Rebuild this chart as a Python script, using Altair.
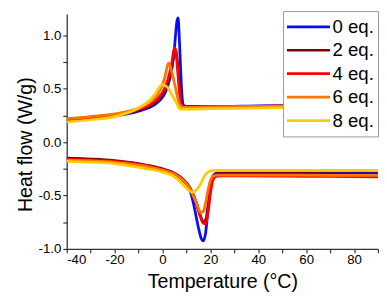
import altair as alt
import pandas as pd

series = ["0 eq.", "2 eq.", "4 eq.", "6 eq.", "8 eq."]
colors = ["#0b0bf6", "#800000", "#ff0000", "#ff7300", "#ffcc00"]

# heating branch (upper curves)
heat_T = [-40, -30, -20, -10, -5, -3, -1, 0, 1, 2, 2.5, 3, 4, 5, 5.5, 6, 6.5, 7, 7.5, 8, 8.5, 9, 10, 20, 40, 60, 90]
heat_0 = [0.200, 0.220, 0.245, 0.290, 0.330, 0.355, 0.395, 0.420, 0.460, 0.515, 0.550, 0.590, 0.700, 0.880, 1.020, 1.130, 1.165, 0.980, 0.720, 0.480, 0.360, 0.340, 0.335, 0.335, 0.340, 0.345, 0.355]
heat_2 = [0.210, 0.230, 0.255, 0.300, 0.345, 0.375, 0.420, 0.450, 0.490, 0.545, 0.580, 0.620, 0.720, 0.845, 0.865, 0.800, 0.680, 0.540, 0.420, 0.355, 0.335, 0.330, 0.330, 0.330, 0.335, 0.340, 0.350]
heat_4 = [0.215, 0.235, 0.260, 0.310, 0.355, 0.390, 0.435, 0.465, 0.510, 0.570, 0.610, 0.650, 0.760, 0.885, 0.860, 0.760, 0.620, 0.490, 0.390, 0.345, 0.330, 0.330, 0.330, 0.330, 0.335, 0.340, 0.350]
heat_6 = [0.220, 0.240, 0.265, 0.320, 0.380, 0.420, 0.490, 0.540, 0.610, 0.710, 0.740, 0.720, 0.650, 0.550, 0.500, 0.450, 0.400, 0.360, 0.340, 0.330, 0.325, 0.325, 0.325, 0.330, 0.335, 0.340, 0.350]
heat_8 = [0.190, 0.210, 0.240, 0.320, 0.400, 0.455, 0.525, 0.540, 0.530, 0.515, 0.500, 0.480, 0.440, 0.400, 0.380, 0.360, 0.335, 0.315, 0.310, 0.310, 0.310, 0.310, 0.310, 0.315, 0.320, 0.325, 0.330]

# cooling branch (lower curves)
cool_T = [-40, -30, -20, -10, -5, 0, 5, 8, 10, 11, 12, 13, 14, 15, 16, 17, 18, 19, 20, 21, 22, 23, 25, 30, 50, 70, 90]
cool_0 = [-0.155, -0.165, -0.180, -0.210, -0.230, -0.260, -0.300, -0.345, -0.390, -0.425, -0.490, -0.580, -0.690, -0.800, -0.890, -0.925, -0.850, -0.630, -0.440, -0.320, -0.295, -0.290, -0.288, -0.288, -0.288, -0.288, -0.288]
cool_2 = [-0.150, -0.158, -0.172, -0.200, -0.222, -0.250, -0.290, -0.335, -0.380, -0.410, -0.450, -0.500, -0.560, -0.630, -0.700, -0.745, -0.730, -0.600, -0.430, -0.330, -0.300, -0.295, -0.295, -0.295, -0.295, -0.297, -0.300]
cool_4 = [-0.160, -0.168, -0.180, -0.208, -0.228, -0.258, -0.298, -0.345, -0.390, -0.420, -0.460, -0.510, -0.570, -0.640, -0.710, -0.760, -0.765, -0.660, -0.480, -0.360, -0.325, -0.318, -0.316, -0.316, -0.318, -0.321, -0.324]
cool_6 = [-0.168, -0.176, -0.188, -0.215, -0.235, -0.262, -0.300, -0.345, -0.390, -0.420, -0.460, -0.510, -0.560, -0.620, -0.660, -0.650, -0.570, -0.450, -0.360, -0.320, -0.310, -0.308, -0.308, -0.308, -0.308, -0.310, -0.312]
cool_8 = [-0.180, -0.188, -0.200, -0.235, -0.255, -0.280, -0.325, -0.385, -0.430, -0.452, -0.465, -0.465, -0.452, -0.425, -0.385, -0.340, -0.300, -0.280, -0.270, -0.266, -0.265, -0.265, -0.265, -0.265, -0.264, -0.264, -0.264]

x_ticks = list(range(-40, 91, 10))
y_ticks = [-1.0, -0.75, -0.5, -0.25, 0.0, 0.25, 0.5, 0.75, 1.0]

rows = []
for branch, T, vals in [
    ("heating", heat_T, [heat_0, heat_2, heat_4, heat_6, heat_8]),
    ("cooling", cool_T, [cool_0, cool_2, cool_4, cool_6, cool_8]),
]:
    for s, v in zip(series, vals):
        for t, y in zip(T, v):
            rows.append({"T": t, "V": y, "series": s, "branch": branch})
df = pd.DataFrame(rows)

FONT = "Liberation Sans"

x_axis = alt.Axis(
    title="Temperature (°C)",
    values=x_ticks,
    labelExpr="datum.value % 20 == 0 ? '' + datum.value : ''",
    tickSize=4,
    labelPadding=0,
    grid=False,
    titlePadding=6,
)
y_axis = alt.Axis(
    title="Heat flow (W/g)",
    values=y_ticks,
    labelExpr="abs(datum.value*2 - round(datum.value*2)) < 0.001 ? (datum.value < 0 ? '-' : '') + format(abs(datum.value), '.1f') : ''",
    tickSize=4,
    labelPadding=2,
    grid=False,
    titlePadding=3,
    titleY=133,
)

chart = (
    alt.Chart(df)
    .mark_line(strokeWidth=2.8, interpolate="monotone", clip=True)
    .encode(
        x=alt.X("T:Q", scale=alt.Scale(domain=[-40, 90], nice=False, zero=False), axis=x_axis),
        y=alt.Y("V:Q", scale=alt.Scale(domain=[-1.0, 1.2], nice=False, zero=False), axis=y_axis),
        color=alt.Color(
            "series:N",
            scale=alt.Scale(domain=series, range=colors),
            sort=series,
            legend=alt.Legend(
                title=None,
                orient="none",
                legendX=221,
                legendY=-3,
                strokeColor="#999999",
                fillColor="white",
                padding=4,
                symbolType="stroke",
                symbolSize=2200,
                symbolStrokeWidth=2.8,
                clipHeight=24,
                rowPadding=0,
                labelFontSize=19,
                labelFont=FONT,
                labelOffset=1,
                symbolOffset=-4.5,
            ),
        ),
        detail="branch:N",
    )
    .properties(
        width=318,
        height=240,
        autosize=alt.AutoSizeParams(type="none"),
        padding={"left": 60, "top": 3, "right": 1, "bottom": 50},
    )
    .configure_view(stroke=None)
    .configure_axis(
        domainColor="#333333",
        tickColor="#333333",
        domainWidth=1.3,
        tickWidth=1.2,
        labelFont=FONT,
        labelFontSize=13.5,
        labelColor="#000000",
        titleFont=FONT,
        titleFontSize=20,
        titleFontWeight="normal",
        titleColor="#000000",
    )
)

chart.save("out.html", embed_options={"renderer": "svg", "actions": False})
